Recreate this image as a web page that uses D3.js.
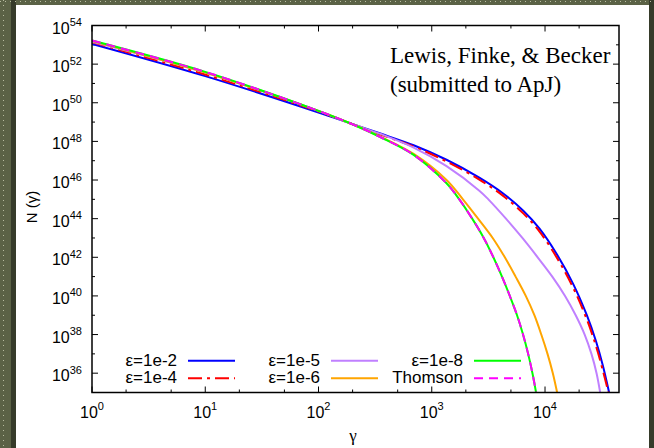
<!DOCTYPE html>
<html>
<head>
<meta charset="utf-8">
<script src="https://cdn.jsdelivr.net/npm/d3@7"></script>
<style>
  body { margin: 0; background: #5b6246; }
  svg { display: block; }
</style>
</head>
<body>
<div id="chart"></div>
<script>
// values, [gamma, N(gamma)]
const eps1e2 = [[1, 1.12e53], [10, 2.40e51], [100, 3.16e49], [190, 8.71e48], [347, 2.63e48], [692, 6.31e47],
  [1350, 1.12e47], [2630, 1.32e46], [4270, 2.00e45], [6460, 2.51e44], [8910, 3.16e43], [12600, 1.58e42],
  [17800, 3.98e40], [23400, 1.0e39], [28200, 4.47e37], [32400, 2.51e36], [36800, 1.0e35]];
const eps1e4 = [[1, 1.35e53], [10, 2.88e51], [100, 3.55e49], [190, 8.71e48], [347, 2.34e48], [692, 5.37e47],
  [1350, 9.12e46], [2630, 1.05e46], [4270, 1.51e45], [6460, 1.82e44], [8910, 2.19e43], [12600, 1.05e42],
  [17800, 2.51e40], [23400, 6.03e38], [28200, 2.51e37], [32400, 1.38e36], [36300, 1.0e35]];
const eps1e5 = [[1, 1.45e53], [10, 3.63e51], [100, 3.80e49], [190, 8.71e48], [347, 2.51e48], [692, 4.79e47],
  [1350, 5.25e46], [2630, 2.82e45], [3160, 1e45], [4520, 1e44], [6310, 1e43], [8610, 1e42], [11590, 1e41],
  [15030, 1e40], [18660, 1e39], [22390, 1e38], [25700, 1e37], [28510, 1e36], [30690, 1e35]];
const eps1e6 = [[1, 1.58e53], [10, 3.63e51], [100, 3.80e49], [190, 8.71e48], [347, 1.82e48], [692, 2.24e47],
  [1350, 1.0e46], [1884, 1e45], [2564, 1e44], [3451, 1e43], [4416, 1e42], [5495, 1e41], [6761, 1e40],
  [8054, 1e39], [9268, 1e38], [10520, 1e37], [11720, 1e36], [12790, 1e35]];
const eps1e8 = [[1, 1.66e53], [10, 3.98e51], [100, 3.80e49], [190, 8.71e48], [347, 1.74e48], [692, 2.0e47],
  [1350, 6.76e45], [1750, 1e45], [2275, 1e44], [2877, 1e43], [3499, 1e42], [4169, 1e41], [4887, 1e40],
  [5662, 1e39], [6397, 1e38], [7096, 1e37], [7745, 1e36], [8337, 1e35]];
const thomson = [[1, 1.66e53], [10, 3.98e51], [100, 3.80e49], [190, 8.71e48], [347, 1.74e48], [692, 2.0e47],
  [1350, 6.76e45], [1750, 1e45], [2275, 1e44], [2877, 1e43], [3499, 1e42], [4169, 1e41], [4887, 1e40],
  [5662, 1e39], [6397, 1e38], [7096, 1e37], [7745, 1e36], [8337, 1e35]];

const seriesNames = ["ε=1e-2", "ε=1e-4", "ε=1e-5", "ε=1e-6", "ε=1e-8", "Thomson"];
const seriesData = [eps1e2, eps1e4, eps1e5, eps1e6, eps1e8, thomson];
const seriesColors = ["#0000ff", "#ff0000", "#c080ff", "#ffa500", "#00ff00", "#ff00ff"];
const seriesDash = [null, "14,5,3,5", null, null, null, "9,6"];

const xMajor = [0, 1, 2, 3, 4];            // exponents of gamma
const yMajor = [36, 38, 40, 42, 44, 46, 48, 50, 52, 54];
const yMinor = [35, 37, 39, 41, 43, 45, 47, 49, 51, 53];
const noteLines = ["Lewis, Finke, & Becker", "(submitted to ApJ)"];

const W = 654, H = 448;
const mLeft = 92, mRight = 619, mTop = 25.5, mBottom = 392.5;

const svg = d3.select("#chart").append("svg")
  .attr("width", W).attr("height", H);

// page frame
svg.append("rect").attr("width", W).attr("height", H).attr("fill", "#5b6246");
svg.append("rect").attr("x", 11).attr("y", 0).attr("width", 5).attr("height", H).attr("fill", "#363b2a");
svg.append("rect").attr("x", 649).attr("y", 0).attr("width", 5).attr("height", H).attr("fill", "#363b2a");
svg.append("line").attr("x1", 3.5).attr("x2", 3.5).attr("y1", 0).attr("y2", H)
  .attr("stroke", "#b8bca0").attr("stroke-dasharray", "1,4");
svg.append("line").attr("x1", 0).attr("x2", W).attr("y1", 1.5).attr("y2", 1.5)
  .attr("stroke", "#b8bca0").attr("stroke-dasharray", "1,4");
svg.append("rect").attr("x", 16).attr("y", 5).attr("width", 633).attr("height", H - 5).attr("fill", "#fff");

const x = d3.scaleLog().domain([1, 4.5e4]).range([mLeft, mRight]);
const y = d3.scaleLog().domain([1e35, 1e54]).range([mBottom, mTop]);

svg.append("defs").append("clipPath").attr("id", "plot")
  .append("rect").attr("x", mLeft).attr("y", mTop).attr("width", mRight - mLeft).attr("height", mBottom - mTop);

// ticks (inward, mirrored)
const ticks = svg.append("g").attr("stroke", "#000").attr("stroke-width", 1);
const xMinor = [];
xMajor.forEach(e => [2, 5].forEach(m => { const v = m * Math.pow(10, e); if (v < 4.5e4) xMinor.push(v); }));
xMajor.forEach(e => {
  const px = x(Math.pow(10, e));
  ticks.append("line").attr("x1", px).attr("x2", px).attr("y1", mBottom).attr("y2", mBottom - 6);
  ticks.append("line").attr("x1", px).attr("x2", px).attr("y1", mTop).attr("y2", mTop + 6);
});
xMinor.forEach(v => {
  const px = x(v);
  ticks.append("line").attr("x1", px).attr("x2", px).attr("y1", mBottom).attr("y2", mBottom - 3);
  ticks.append("line").attr("x1", px).attr("x2", px).attr("y1", mTop).attr("y2", mTop + 3);
});
yMajor.forEach(e => {
  const py = y(Math.pow(10, e));
  ticks.append("line").attr("x1", mLeft).attr("x2", mLeft + 6).attr("y1", py).attr("y2", py);
  ticks.append("line").attr("x1", mRight).attr("x2", mRight - 6).attr("y1", py).attr("y2", py);
});
yMinor.forEach(e => {
  const py = y(Math.pow(10, e));
  ticks.append("line").attr("x1", mLeft).attr("x2", mLeft + 3).attr("y1", py).attr("y2", py);
  ticks.append("line").attr("x1", mRight).attr("x2", mRight - 3).attr("y1", py).attr("y2", py);
});

// tick labels
const font = "'Liberation Sans', Arial, Helvetica, sans-serif";
xMajor.forEach(e => {
  const t = svg.append("text").attr("x", x(Math.pow(10, e))).attr("y", mBottom + 25.5)
    .attr("text-anchor", "middle").attr("font-family", font).attr("font-size", 16).attr("fill", "#000");
  t.append("tspan").text("10");
  t.append("tspan").attr("dy", -8).attr("font-size", 11).text(e);
});
yMajor.forEach(e => {
  const t = svg.append("text").attr("x", 82).attr("y", y(Math.pow(10, e)) + 8)
    .attr("text-anchor", "end").attr("font-family", font).attr("font-size", 16).attr("fill", "#000");
  t.append("tspan").text("10");
  t.append("tspan").attr("dy", -7.5).attr("font-size", 11).text(e);
});

// axis titles
svg.append("text").attr("x", 353).attr("y", 441).attr("text-anchor", "middle")
  .attr("font-family", "'Liberation Serif', serif").attr("font-size", 17).text("γ");
svg.append("text").attr("transform", "translate(37,207) rotate(-90)").attr("text-anchor", "middle")
  .attr("font-family", font).attr("font-size", 15).text("N (γ)");

// curves
const line = d3.line().x(d => x(d[0])).y(d => y(d[1])).curve(d3.curveCatmullRom.alpha(0.5));
const curves = svg.append("g").attr("clip-path", "url(#plot)");
seriesData.forEach((data, i) => {
  curves.append("path").datum(data)
    .attr("d", line)
    .attr("fill", "none")
    .attr("stroke", seriesColors[i])
    .attr("stroke-width", 2)
    .attr("stroke-dasharray", seriesDash[i]);
});

// frame
svg.append("rect").attr("x", mLeft).attr("y", mTop).attr("width", mRight - mLeft).attr("height", mBottom - mTop)
  .attr("fill", "none").attr("stroke", "#000").attr("stroke-width", 1.5);

// legend: 3 columns x 2 rows
const legend = svg.append("g");
seriesNames.forEach((name, i) => {
  const col = Math.floor(i / 2), row = i % 2;
  const tx = 177 + col * 143;
  const by = 365.5 + row * 17.5;
  legend.append("text").attr("x", tx).attr("y", by).attr("text-anchor", "end")
    .attr("font-family", font).attr("font-size", 17).text(name);
  legend.append("line").attr("x1", tx + 11).attr("x2", tx + 58)
    .attr("y1", by - 4.7).attr("y2", by - 4.7)
    .attr("stroke", seriesColors[i]).attr("stroke-width", 2)
    .attr("stroke-dasharray", seriesDash[i]);
});

// annotation
noteLines.forEach((s, i) => {
  svg.append("text").attr("x", 390).attr("y", 62.5 + i * 29)
    .attr("font-family", "'Liberation Serif', 'Times New Roman', serif").attr("font-size", 23)
    .attr("fill", "#000").text(s);
});
</script>
</body>
</html>
